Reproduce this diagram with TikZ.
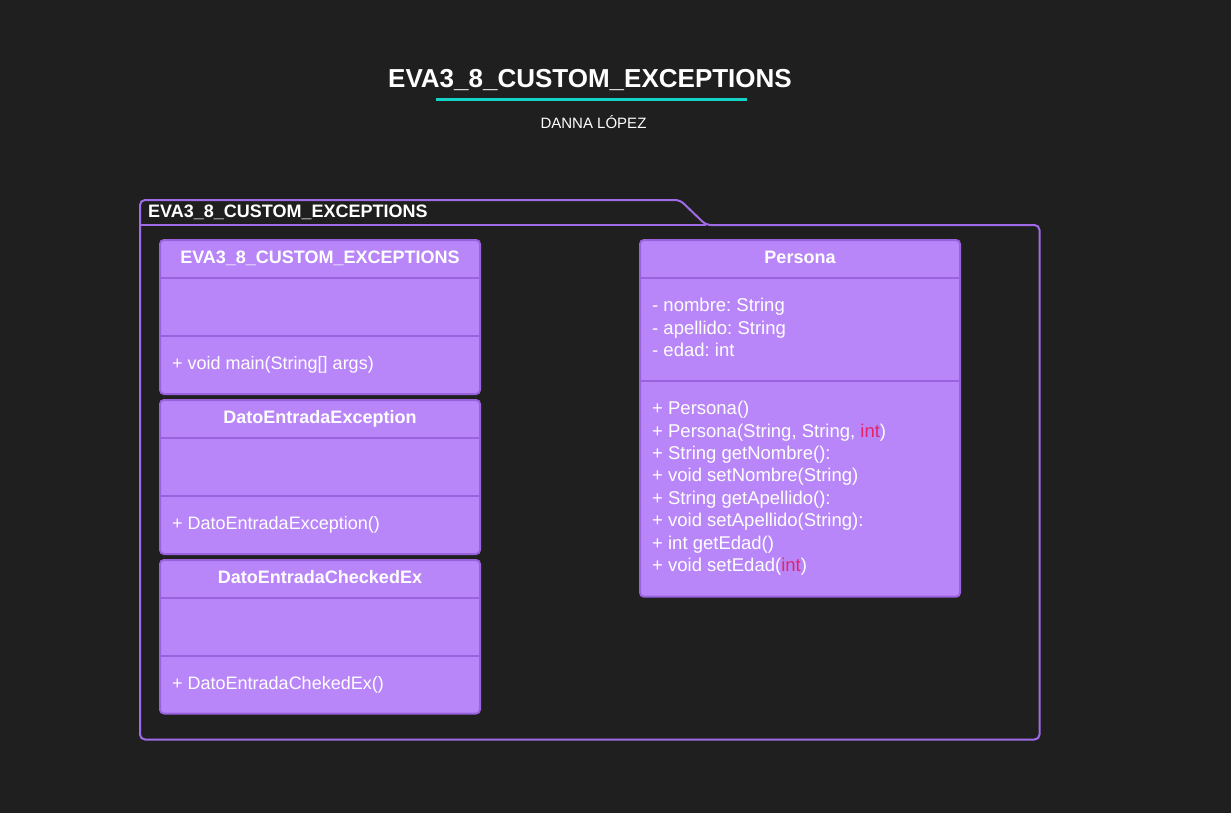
\documentclass[tikz,border=0pt]{standalone}
\usepackage{fontspec}
\setmainfont{Liberation Sans}
\frenchspacing
\definecolor{bg}{HTML}{1F1F1F}
\definecolor{boxfill}{HTML}{B886F9}
\definecolor{boxline}{HTML}{9B62E0}
\definecolor{pkgline}{HTML}{A06BE6}
\definecolor{accent}{HTML}{13D3C6}
\definecolor{kw}{HTML}{E3246A}
\begin{document}
\begin{tikzpicture}[x=1pt,y=-1pt,
  classbox/.style={draw=boxline, fill=boxfill, line width=2pt, rounded corners=4pt, inner sep=0pt, outer sep=0pt, anchor=north west},
  divider/.style={draw=boxline, line width=2pt},
  pkg/.style={draw=pkgline, line width=2pt},
  hdr/.style={font=\fontsize{18}{22}\selectfont\bfseries, text=white, inner sep=0pt, anchor=base},
  txt/.style={font=\fontsize{18}{22}\selectfont, text=white, inner sep=0pt, anchor=base west},
  ptxt/.style={font=\fontsize{18.5}{22}\selectfont, text=white, inner sep=0pt, anchor=base west},
]
\useasboundingbox (0,0) rectangle (1231,812);
\fill[bg] (-10,-10) rectangle (1241,822);

% title
\node[font=\fontsize{26}{30}\selectfont\bfseries, text=white, inner sep=0pt, anchor=base] (title) at (590,87.3) {EVA3\_8\_CUSTOM\_EXCEPTIONS};
\coordinate (ulA) at (436,99);
\coordinate (ulB) at (747,99);
\draw[accent, line width=3pt] (ulA) -- (ulB);
\node[font=\fontsize{15}{18}\selectfont, text=white, inner sep=0pt, anchor=base] (author) at (593.5,128.3) {DANNA LÓPEZ};

% package
\draw[pkg, rounded corners=5pt] (140,739.5) -- (140,200) -- (680,200) -- (706,225) -- (1039.5,225) -- (1039.5,739.5) -- cycle;
\draw[pkg] (140,225) -- (706,225);
\node[hdr, anchor=base west] (pkglabel) at (148,217) {EVA3\_8\_CUSTOM\_EXCEPTIONS};

% class 1
\node[classbox, minimum width=320pt, minimum height=154pt] (c1) at (160,240) {};
\draw[divider] (160,278.3) -- (480,278.3);
\draw[divider] (160,335.8) -- (480,335.8);
\node[hdr] (c1name) at (320,263) {EVA3\_8\_CUSTOM\_EXCEPTIONS};
\node[txt] (c1m1) at (172,369) {+ void main(String[] args)};

% class 2
\node[classbox, minimum width=320pt, minimum height=154pt] (c2) at (160,400) {};
\draw[divider] (160,438.3) -- (480,438.3);
\draw[divider] (160,496) -- (480,496);
\node[hdr] (c2name) at (320,423) {DatoEntradaException};
\node[txt] (c2m1) at (172,529) {+ DatoEntradaException()};

% class 3
\node[classbox, minimum width=320pt, minimum height=153.5pt] (c3) at (160,560) {};
\draw[divider] (160,598.3) -- (480,598.3);
\draw[divider] (160,656) -- (480,656);
\node[hdr] (c3name) at (320,583) {DatoEntradaCheckedEx};
\node[txt] (c3m1) at (172,689) {+ DatoEntradaChekedEx()};

% Persona
\node[classbox, minimum width=320pt, minimum height=356.7pt] (c4) at (640,240) {};
\draw[divider] (640,278.3) -- (960,278.3);
\draw[divider] (640,380.7) -- (960,380.7);
\node[hdr] (c4name) at (800,263) {Persona};
\node[ptxt] (c4a1) at (652,311.6) {- nombre: String};
\node[ptxt] (c4a2) at (652,334.0) {- apellido: String};
\node[ptxt] (c4a3) at (652,356.4) {- edad: int};
\node[ptxt] (c4m1) at (652,414.6) {+ Persona()};
\node[ptxt] (c4m2) at (652,437.0) {+ Persona(String, String, \textcolor{kw}{int})};
\node[ptxt] (c4m3) at (652,459.4) {+ String getNombre():};
\node[ptxt] (c4m4) at (652,481.8) {+ void setNombre(String)};
\node[ptxt] (c4m5) at (652,504.2) {+ String getApellido():};
\node[ptxt] (c4m6) at (652,526.6) {+ void setApellido(String):};
\node[ptxt] (c4m7) at (652,549.0) {+ int getEdad()};
\node[ptxt] (c4m8) at (652,571.4) {+ void setEdad(\textcolor{kw}{int})};
\end{tikzpicture}
\end{document}
